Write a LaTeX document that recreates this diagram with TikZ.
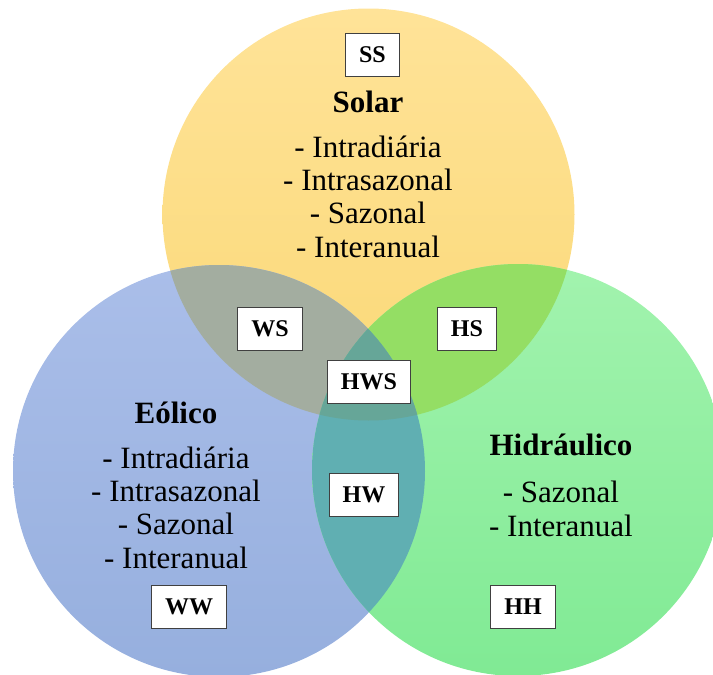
\documentclass[tikz,border=0pt]{standalone}
\usepackage{fontspec}
\setmainfont{Liberation Serif}
\usetikzlibrary{positioning}

\definecolor{solarA}{RGB}{255,227,152}
\definecolor{solarB}{RGB}{250,216,118}
\definecolor{eolA}{RGB}{170,190,233}
\definecolor{eolB}{RGB}{150,175,222}
\definecolor{hidA}{RGB}{162,243,174}
\definecolor{hidB}{RGB}{128,234,148}
\definecolor{corWS}{RGB}{163,173,160}
\definecolor{corHS}{RGB}{148,222,100}
\definecolor{corHW}{RGB}{96,175,178}
\definecolor{corHWS}{RGB}{102,166,152}

\newcommand\circS{(368.5,214.5) circle (206)}
\newcommand\circW{(219,471) circle (206)}
\newcommand\circH{(518,470) circle (206)}

\tikzset{
  rotulo/.style={draw=black!75,line width=0.9pt,fill=white,inner xsep=13.5pt,minimum height=43pt,
    font=\fontsize{24}{24}\selectfont\bfseries},
  titulo/.style={anchor=base,inner sep=0pt,font=\fontsize{31}{31}\selectfont\bfseries},
  lista/.style={anchor=base,inner sep=0pt,align=center,font=\fontsize{31}{33.3}\selectfont}
}

\begin{document}
\begin{tikzpicture}[x=1pt,y=-1pt]
\useasboundingbox (0,0) rectangle (713,675);

% circulos
\shade[top color=solarA,bottom color=solarB] \circS;
\shade[top color=eolA,bottom color=eolB] \circW;
\shade[top color=hidA,bottom color=hidB] \circH;

% intersecoes
\begin{scope}
  \clip \circS;
  \fill[corWS] \circW;
  \fill[corHS] \circH;
\end{scope}
\begin{scope}
  \clip \circW;
  \fill[corHW] \circH;
  \clip \circH;
  \fill[corHWS] \circS;
\end{scope}

% textos (base = linha de base da ultima linha)
\node[titulo] (solar) at (368,112) {Solar};
\node[lista] (lsolar) at (368,257) {- Intradiária\\- Intrasazonal\\- Sazonal\\- Interanual};
\node[titulo] (eolico) at (176,423) {Eólico};
\node[lista] (leolico) at (176,568) {- Intradiária\\- Intrasazonal\\- Sazonal\\- Interanual};
\node[titulo] (hidr) at (561,455) {Hidráulico};
\node[lista] (lhidr) at (561,536) {- Sazonal\\- Interanual};

% rotulos
\node[rotulo] (SS) at (372.5,54.5) {SS};
\node[rotulo] (WS) at (270,328.5) {WS};
\node[rotulo] (HS) at (467,328.5) {HS};
\node[rotulo] (HWS) at (369,382) {HWS};
\node[rotulo] (HW) at (364,495) {HW};
\node[rotulo] (WW) at (189,607) {WW};
\node[rotulo] (HH) at (523,607) {HH};
\end{tikzpicture}
\end{document}
